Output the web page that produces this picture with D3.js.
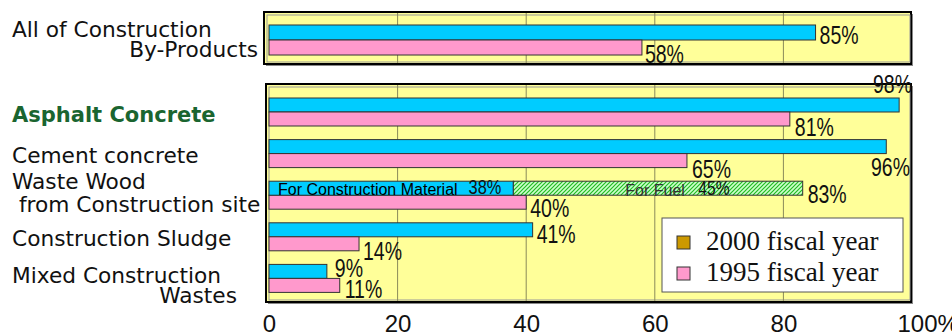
<!DOCTYPE html>
<html><head><meta charset="utf-8">
<script src="https://cdn.jsdelivr.net/npm/d3@7"></script>
<style>
body { margin: 0; background: #fff; }
svg { display: block; }
</style>
</head><body>
<svg id="chart" width="952" height="336"></svg>
<script>
// values
var years = ["2000", "1995"];
var totalValues = [85, 58];
var categories = ["Asphalt Concrete", "Cement concrete", "Waste Wood from Construction site", "Construction Sludge", "Mixed Construction Wastes"];
var values2000 = [98, 96, 83, 41, 9];
var values1995 = [81, 65, 40, 14, 11];
var woodParts = ["For Construction Material", "For Fuel"];
var woodValues = [38, 45];
var xTicks = [0, 20, 40, 60, 80, 100];
var legendLabels = ["2000 fiscal year", "1995 fiscal year"];

var barColor = {"2000": "#00ccff", "1995": "#ff99cc"};
var legendColors = ["#cc9900", "#ff99cc"];
var yellow = "#ffff99";
var gridColor = "#8a8a5a";

var svg = d3.select("#chart");

var x = d3.scaleLinear().domain([0, 100]).range([269, 912]);
var yTop = d3.scaleBand().domain(["total"]).range([15, 65]).paddingOuter(0.333);
var yBot = d3.scaleBand().domain(categories).range([84.4, 306]).padding(0.327);
var subTop = d3.scaleBand().domain(years).range([0, yTop.bandwidth()]);
var subBot = d3.scaleBand().domain(years).range([0, yBot.bandwidth()]);

// hatch for the fuel part
var defs = svg.append("defs");
var pat = defs.append("pattern").attr("id", "hatch")
    .attr("patternUnits", "userSpaceOnUse").attr("width", 4).attr("height", 4);
pat.append("rect").attr("width", 4).attr("height", 4).attr("fill", "#ccffcc");
pat.append("path").attr("d", "M-1,1 L1,-1 M0,4 L4,0 M3,5 L5,3")
    .attr("stroke", "#22bb22").attr("stroke-width", 1.2);

function drawPanel(x0, y0, x1, y1) {
    svg.append("rect").attr("x", x0 + 2).attr("y", y0 + 2)
        .attr("width", x1 - x0).attr("height", y1 - y0).attr("fill", "#888");
    svg.append("rect").attr("x", x0).attr("y", y0)
        .attr("width", x1 - x0).attr("height", y1 - y0)
        .attr("fill", yellow).attr("stroke", "#000").attr("stroke-width", 2);
    svg.append("rect").attr("x", x0 + 3).attr("y", y0 + 3)
        .attr("width", x1 - x0 - 4).attr("height", y1 - y0 - 5)
        .attr("fill", "none").attr("stroke", "#999").attr("stroke-width", 1);
    svg.append("g").selectAll("line")
        .data(xTicks.slice(1, -1))
        .enter().append("line")
        .attr("x1", d => x(d)).attr("x2", d => x(d))
        .attr("y1", y0 + 1).attr("y2", y1 - 1)
        .attr("stroke", gridColor).attr("stroke-width", 1);
}

drawPanel(264, 12, 911, 64);
drawPanel(266, 84, 911, 302);

// top panel bars
var topG = svg.append("g").attr("transform", "translate(0," + yTop("total") + ")");
topG.selectAll("rect")
    .data(years)
    .enter().append("rect")
    .attr("x", x(0))
    .attr("y", d => subTop(d))
    .attr("width", (d, i) => x(totalValues[i]) - x(0))
    .attr("height", subTop.bandwidth())
    .attr("fill", d => barColor[d])
    .attr("stroke", "#333").attr("stroke-width", 1);

// bottom panel bars
var rows = categories.map((c, i) => ({cat: c, i: i, v2000: values2000[i], v1995: values1995[i]}));
var rowG = svg.append("g").selectAll("g")
    .data(rows)
    .enter().append("g")
    .attr("transform", d => "translate(0," + yBot(d.cat) + ")");

rowG.filter(d => d.i !== 2).append("rect")
    .attr("x", x(0)).attr("y", subBot("2000"))
    .attr("width", d => x(d.v2000) - x(0))
    .attr("height", subBot.bandwidth())
    .attr("fill", barColor["2000"]).attr("stroke", "#333").attr("stroke-width", 1);

rowG.append("rect")
    .attr("x", x(0)).attr("y", subBot("1995"))
    .attr("width", d => x(d.v1995) - x(0))
    .attr("height", subBot.bandwidth())
    .attr("fill", barColor["1995"]).attr("stroke", "#333").attr("stroke-width", 1);

// waste wood 2000 stacked bar
var woodStart = d3.cumsum([0].concat(woodValues));
var woodY = yBot(categories[2]) + subBot("2000");
svg.append("g").selectAll("rect")
    .data(woodParts)
    .enter().append("rect")
    .attr("x", (d, i) => x(woodStart[i]))
    .attr("y", woodY)
    .attr("width", (d, i) => x(woodStart[i + 1]) - x(woodStart[i]))
    .attr("height", subBot.bandwidth())
    .attr("fill", (d, i) => i === 0 ? barColor["2000"] : "url(#hatch)")
    .attr("stroke", "#333").attr("stroke-width", 1);

var woodBase = woodY + subBot.bandwidth();
svg.append("text").attr("x", x(0) + 9).attr("y", woodBase)
    .attr("font-family", "Liberation Sans, Arial, sans-serif").attr("font-size", 16)
    .text(woodParts[0]);
svg.append("text").attr("x", x(woodStart[1]) + 112).attr("y", woodBase + 1)
    .attr("font-family", "Liberation Sans, Arial, sans-serif").attr("font-size", 16)
    .attr("fill", "#333")
    .text(woodParts[1]);

function narrow(px, py, txt, size, anchor) {
    var t = svg.append("text")
        .attr("transform", "translate(" + px + "," + py + ") scale(0.78,1)")
        .attr("font-family", "Liberation Sans, Arial, sans-serif")
        .attr("font-size", size)
        .attr("fill", "#111")
        .text(txt);
    if (anchor) t.attr("text-anchor", anchor);
    return t;
}

narrow(x(woodStart[1]) - 12, woodBase - 1, woodValues[0] + "%", 21, "end");
narrow(x(woodStart[1]) + 185, woodBase, woodValues[1] + "%", 20);

// value labels: right of the bar end, just below its bottom edge
var labelNudge = {
    "top-2000": [4, 4], "top-1995": [3, 8],
    "0-1995": [5, 10], "1-1995": [5, 10],
    "2-2000": [5, 8], "2-1995": [4, 8],
    "3-2000": [4, 6.5], "3-1995": [4, 9],
    "4-2000": [8, -1], "4-1995": [5, 6]
};

years.forEach(function(yr, k) {
    var key = "top-" + yr;
    var v = totalValues[k];
    narrow(x(v) + labelNudge[key][0],
        yTop("total") + subTop(yr) + subTop.bandwidth() + labelNudge[key][1],
        v + "%", 25);
});

rows.forEach(function(r) {
    years.forEach(function(yr) {
        var v = yr === "2000" ? r.v2000 : r.v1995;
        var top = yBot(r.cat) + subBot(yr);
        var bot = top + subBot.bandwidth();
        if (r.i === 0 && yr === "2000") {
            narrow(x(100), top - 5, v + "%", 25, "end");
        } else if (r.i === 1 && yr === "2000") {
            narrow(x(100) - 2, bot + 22, v + "%", 25, "end");
        } else {
            var n = labelNudge[r.i + "-" + yr];
            narrow(x(v) + n[0], bot + n[1], v + "%", 25);
        }
    });
});

// category labels on the left
var labelFont = "DejaVu Sans, Verdana, sans-serif";
var leftLabels = [
    {c: yTop("total") + yTop.bandwidth() / 2, lines: [["All of Construction", 12, -3.5, "start"], ["By-Products", 258, 17, "end"]]},
    {c: yBot(categories[0]) + yBot.bandwidth() / 2, lines: [["Asphalt Concrete", 12, 10, "start"]], bold: true},
    {c: yBot(categories[1]) + yBot.bandwidth() / 2, lines: [["Cement concrete", 12, 9, "start"]]},
    {c: yBot(categories[2]) + yBot.bandwidth() / 2, lines: [["Waste Wood", 12, -6, "start"], [" from Construction site", 12, 17, "start"]]},
    {c: yBot(categories[3]) + yBot.bandwidth() / 2, lines: [["Construction Sludge", 12, 9, "start"]]},
    {c: yBot(categories[4]) + yBot.bandwidth() / 2, lines: [["Mixed Construction", 12, 5, "start"], ["Wastes", 237, 25, "end"]]}
];
leftLabels.forEach(function(L) {
    L.lines.forEach(function(ln) {
        svg.append("text")
            .attr("x", ln[1]).attr("y", L.c + ln[2])
            .attr("text-anchor", ln[3])
            .attr("xml:space", "preserve")
            .attr("font-family", labelFont)
            .attr("font-size", L.bold ? 21 : 21.7)
            .attr("font-weight", L.bold ? "bold" : "normal")
            .attr("fill", L.bold ? "#1a6530" : "#111")
            .text(ln[0]);
    });
});

// x axis
var axis = svg.append("g")
    .attr("transform", "translate(0,310)")
    .call(d3.axisBottom(x).tickValues(xTicks).tickSize(0).tickPadding(0));
axis.select(".domain").remove();
axis.selectAll("text")
    .attr("dy", null).attr("y", 22)
    .attr("font-family", "Liberation Sans, Arial, sans-serif")
    .attr("font-size", 24)
    .attr("fill", "#111");
axis.selectAll(".tick").filter(d => d === 100).select("text")
    .attr("text-anchor", "start").attr("x", -15)
    .text("100%");

// legend
var lg = svg.append("g").attr("transform", "translate(662,218)");
lg.append("rect").attr("width", 241).attr("height", 74)
    .attr("fill", "#fff").attr("stroke", "#555").attr("stroke-width", 1);
lg.selectAll("rect.key")
    .data(legendLabels)
    .enter().append("rect").attr("class", "key")
    .attr("x", 15).attr("y", (d, i) => 18 + i * 31)
    .attr("width", 13).attr("height", 13)
    .attr("fill", (d, i) => legendColors[i])
    .attr("stroke", "#333").attr("stroke-width", 1);
lg.selectAll("text")
    .data(legendLabels)
    .enter().append("text")
    .attr("x", 44).attr("y", (d, i) => 32 + i * 31)
    .attr("font-family", "Liberation Serif, Times New Roman, serif")
    .attr("font-size", 27)
    .attr("fill", "#111")
    .text(d => d);
</script>
</body></html>
